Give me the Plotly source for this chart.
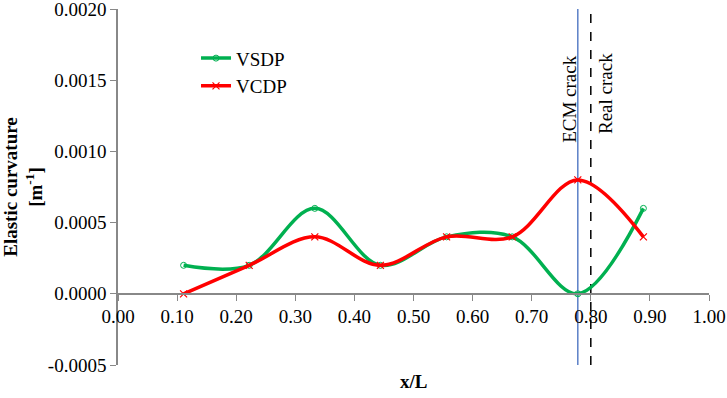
import plotly.graph_objects as go

x_pos = [0.111, 0.222, 0.333, 0.444, 0.556, 0.667, 0.778, 0.889]
vsdp = [0.0002, 0.0002, 0.0006, 0.0002, 0.0004, 0.0004, 0.0000, 0.0006]
vcdp = [0.0000, 0.0002, 0.0004, 0.0002, 0.0004, 0.0004, 0.0008, 0.0004]

ecm_crack_x = [0.778, 0.778]
real_crack_x = [0.80, 0.80]
crack_y = [-0.0005, 0.0020]

x_ticks = [0.0, 0.1, 0.2, 0.3, 0.4, 0.5, 0.6, 0.7, 0.8, 0.9, 1.0]
y_ticks = [-0.0005, 0.0, 0.0005, 0.0010, 0.0015, 0.0020]
y_tick_labels = ["-0.0005", "0.0000", "0.0005", "0.0010", "0.0015", "0.0020"]

FONT = "Liberation Serif"

fig = go.Figure()
fig.add_trace(go.Scatter(x=ecm_crack_x, y=crack_y, mode="lines",
                         line=dict(color="#5B7FC7", width=1.5), showlegend=False, hoverinfo="skip"))
fig.add_trace(go.Scatter(x=real_crack_x, y=crack_y, mode="lines",
                         line=dict(color="black", width=1.5, dash="dash"), showlegend=False, hoverinfo="skip"))
fig.add_trace(go.Scatter(x=x_pos, y=vsdp, name="VSDP", mode="lines+markers",
                         line=dict(color="#00B050", width=3.5, shape="spline", smoothing=1.0),
                         marker=dict(symbol="circle-open", size=6, color="#00B050", line=dict(width=1))))
fig.add_trace(go.Scatter(x=x_pos, y=vcdp, name="VCDP", mode="lines+markers",
                         line=dict(color="#FF0000", width=3.5, shape="spline", smoothing=1.0),
                         marker=dict(symbol="x-thin-open", size=7, color="#FF0000", line=dict(width=1.2, color="#FF0000"))))

fig.update_layout(
    width=727, height=398,
    margin=dict(l=118, r=18, t=9, b=33, autoexpand=False),
    paper_bgcolor="white", plot_bgcolor="white",
    font=dict(family=FONT, size=19, color="black"),
    legend=dict(x=0.132, y=0.915, xanchor="left", yanchor="top", bgcolor="rgba(0,0,0,0)",
                font=dict(family=FONT, size=19), itemwidth=30, tracegroupgap=0),
    xaxis=dict(range=[0, 1], tickvals=x_ticks, tickformat=".2f", showgrid=False, zeroline=False,
               showline=True, linecolor="#888888", linewidth=1.5, ticks="outside", ticklen=6,
               tickcolor="#888888", anchor="free", position=0.2, automargin=False,
               ticklabeloverflow="allow", tickfont=dict(family=FONT, size=19)),
    yaxis=dict(range=[-0.0005, 0.0020], tickvals=y_ticks, ticktext=y_tick_labels,
               showgrid=False, zeroline=False,
               showline=True, linecolor="#888888", linewidth=1.5, ticks="outside", ticklen=6,
               tickcolor="#888888", tickfont=dict(family=FONT, size=19), automargin=False,
               ticklabeloverflow="allow",
               title=dict(text="<b>Elastic curvature<br>[m<sup>-1</sup>]</b>", standoff=10,
                          font=dict(family=FONT, size=19))),
    annotations=[
        dict(text="<b>x/L</b>", x=0.5, y=-0.045, xref="paper", yref="paper", showarrow=False,
             xanchor="center", yanchor="middle", font=dict(family=FONT, size=19)),
        dict(text="ECM crack", x=0.765, y=0.00137, xref="x", yref="y", showarrow=False, textangle=-90,
             xanchor="center", yanchor="middle", font=dict(family=FONT, size=19)),
        dict(text="Real crack", x=0.824, y=0.00141, xref="x", yref="y", showarrow=False, textangle=-90,
             xanchor="center", yanchor="middle", font=dict(family=FONT, size=19)),
    ],
)

fig.write_html("out.html", config={"displayModeBar": False},
               post_script="document.body.style.margin='0';")
